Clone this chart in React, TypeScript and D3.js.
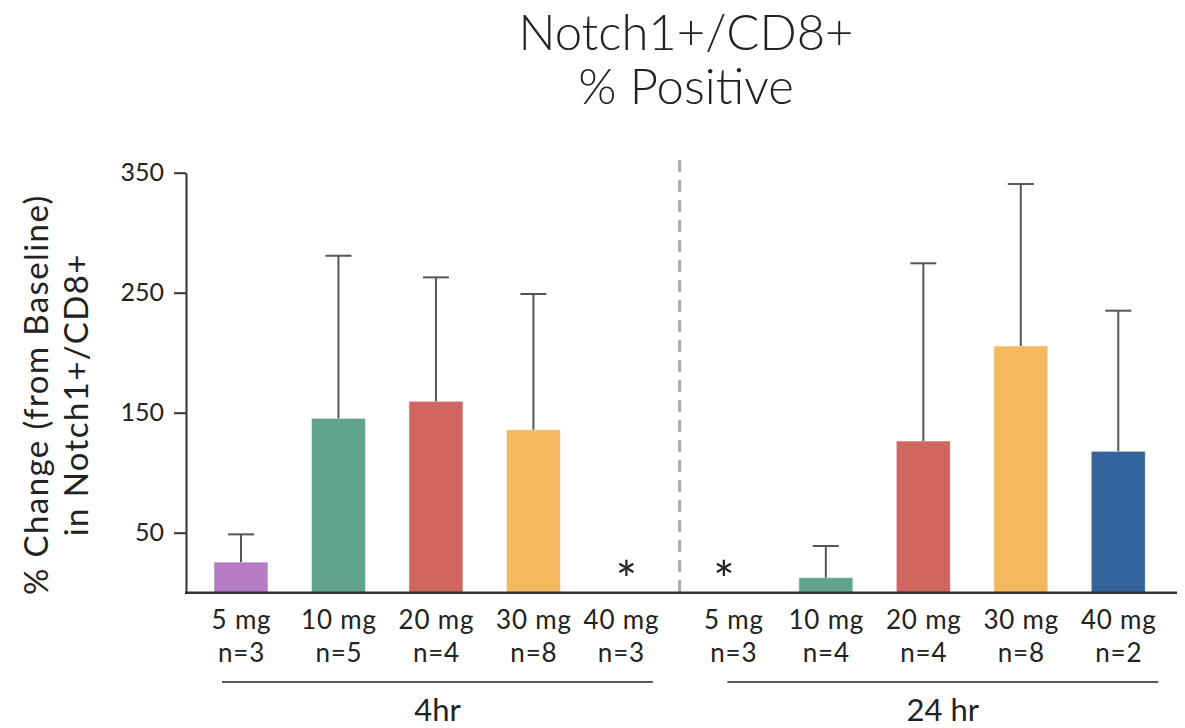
import React, { useEffect, useRef } from 'react';
import * as d3 from 'd3';

// chart values
const doses = ['5 mg', '10 mg', '20 mg', '30 mg', '40 mg'];
const groups = ['4hr', '24 hr'];
const nLabels4hr = ['n=3', 'n=5', 'n=4', 'n=8', 'n=3'];
const nLabels24hr = ['n=3', 'n=4', 'n=4', 'n=8', 'n=2'];
const means4hr = [25.5, 145.3, 159.5, 135.8, null];
const upper4hr = [48.6, 280.8, 262.8, 248.9, null];
const means24hr = [null, 12.5, 126.4, 205.6, 117.8];
const upper24hr = [null, 38.9, 274.5, 340.6, 235];
const doseColors = ['#b57bc4', '#62a38f', '#d0665f', '#f4b95e', '#35639c'];
const yTicks = [50, 150, 250, 350];

const FONT = 'Lato, "Noto Sans", sans-serif';

const App = () => {
  const svgRef = useRef<SVGSVGElement>(null);

  useEffect(() => {
    const width = 1185;
    const height = 728;

    const svg = d3.select(svgRef.current);
    svg.selectAll('*').remove();
    svg.attr('viewBox', [0, 0, width, height]);

    const rows = [
      ...doses.map((d, i) => ({ group: 0, dose: i, label: d, n: nLabels4hr[i], mean: means4hr[i], upper: upper4hr[i] })),
      ...doses.map((d, i) => ({ group: 1, dose: i, label: d, n: nLabels24hr[i], mean: means24hr[i], upper: upper24hr[i] })),
    ];

    const x = d3.scaleBand<number>()
      .domain(rows.map((_, i) => i))
      .range([192.25, 1167])
      .paddingInner(0.446)
      .paddingOuter(0.223);

    const y = d3.scaleLinear()
      .domain([0, 350])
      .range([592.7, 172.7]);

    const cx = (i: number) => (x(i) as number) + x.bandwidth() / 2;

    // title
    ['Notch1+/CD8+', '% Positive'].forEach((t, i) => {
      svg.append('text')
        .attr('x', 686)
        .attr('y', 50 + i * 54)
        .attr('text-anchor', 'middle')
        .attr('font-family', FONT)
        .attr('font-weight', 300)
        .attr('font-size', 49)
        .attr('fill', '#222')
        .text(t);
    });

    // divider
    svg.append('line')
      .attr('x1', (cx(4) + cx(5)) / 2)
      .attr('x2', (cx(4) + cx(5)) / 2)
      .attr('y1', 160)
      .attr('y2', y(0))
      .attr('stroke', '#aaa')
      .attr('stroke-width', 3)
      .attr('stroke-dasharray', '12,8');

    // bars
    const withValue = rows.map((r, i) => ({ ...r, i })).filter(r => r.mean !== null);
    svg.selectAll('rect.bar')
      .data(withValue)
      .join('rect')
      .attr('class', 'bar')
      .attr('x', d => x(d.i) as number)
      .attr('width', x.bandwidth())
      .attr('y', d => y(d.mean as number))
      .attr('height', d => y(0) - y(d.mean as number))
      .attr('fill', d => doseColors[d.dose])
      .attr('stroke', '#fff')
      .attr('stroke-opacity', 0.5)
      .attr('stroke-width', 1);

    // error bars
    const err = svg.append('g').attr('stroke', '#555').attr('stroke-width', 2);
    withValue.forEach(d => {
      err.append('line')
        .attr('x1', cx(d.i)).attr('x2', cx(d.i))
        .attr('y1', y(d.mean as number)).attr('y2', y(d.upper as number));
      err.append('line')
        .attr('x1', cx(d.i) - 13).attr('x2', cx(d.i) + 13)
        .attr('y1', y(d.upper as number)).attr('y2', y(d.upper as number));
    });

    // asterisks for missing bars
    rows.forEach((r, i) => {
      if (r.mean === null) {
        svg.append('text')
          .attr('x', cx(i) - 4.5)
          .attr('y', y(0) + 5)
          .attr('text-anchor', 'middle')
          .attr('font-family', FONT)
          .attr('font-size', 50)
          .attr('fill', '#222')
          .text('*');
      }
    });

    // y axis
    const yAxis = d3.axisLeft(y).tickValues(yTicks).tickSize(12).tickSizeOuter(0).tickPadding(10);
    const gy = svg.append('g')
      .attr('transform', 'translate(186,0)')
      .call(yAxis);
    gy.select('.domain').attr('stroke', '#333').attr('stroke-width', 2);
    gy.selectAll('.tick line').attr('stroke', '#333').attr('stroke-width', 2);
    gy.selectAll('.tick text')
      .attr('font-family', FONT)
      .attr('font-size', 25)
      .attr('fill', '#222');

    // x baseline
    svg.append('line')
      .attr('x1', 185).attr('x2', 1177)
      .attr('y1', y(0)).attr('y2', y(0))
      .attr('stroke', '#333')
      .attr('stroke-width', 2.5);

    // y label
    const yl = svg.append('text')
      .attr('transform', `translate(48,${(y(0) + y(350)) / 2 + 12}) rotate(-90)`)
      .attr('text-anchor', 'middle')
      .attr('font-family', FONT)
      .attr('font-size', 33)
      .attr('letter-spacing', 1.4)
      .attr('fill', '#222');
    yl.append('tspan').attr('x', 0).attr('dy', 0).text('% Change (from Baseline)');
    yl.append('tspan').attr('x', 0).attr('dy', 40).text('in Notch1+/CD8+');

    // category labels (labels next to the divider sit a little away from it)
    const nudge = (i: number) => (i === 4 ? -10 : i === 5 ? 5 : 0);
    rows.forEach((r, i) => {
      [r.label, r.n].forEach((t, k) => {
        svg.append('text')
          .attr('x', cx(i) + 0.5 + nudge(i)).attr('y', 629 + k * 33)
          .attr('text-anchor', 'middle')
          .attr('font-family', FONT)
          .attr('font-size', 26)
          .attr('letter-spacing', 0.8)
          .attr('fill', '#222')
          .text(t);
      });
    });

    // group underlines and labels
    const groupSpans = [[cx(0) - 19, cx(4) + 22], [cx(5) - 1, cx(9) + 40]];
    groups.forEach((g, gi) => {
      const [a, b] = groupSpans[gi];
      svg.append('line')
        .attr('x1', a).attr('x2', b)
        .attr('y1', 682).attr('y2', 682)
        .attr('stroke', '#222')
        .attr('stroke-width', 1.5);
      svg.append('text')
        .attr('x', (a + b) / 2).attr('y', 721)
        .attr('text-anchor', 'middle')
        .attr('font-family', FONT)
        .attr('font-size', 31)
        .attr('fill', '#222')
        .text(g);
    });
  });

  return (
    <svg ref={svgRef} width={1185} height={728} style={{ position: 'absolute', left: 0, top: 0, display: 'block' }}></svg>
  );
};

export default App;
